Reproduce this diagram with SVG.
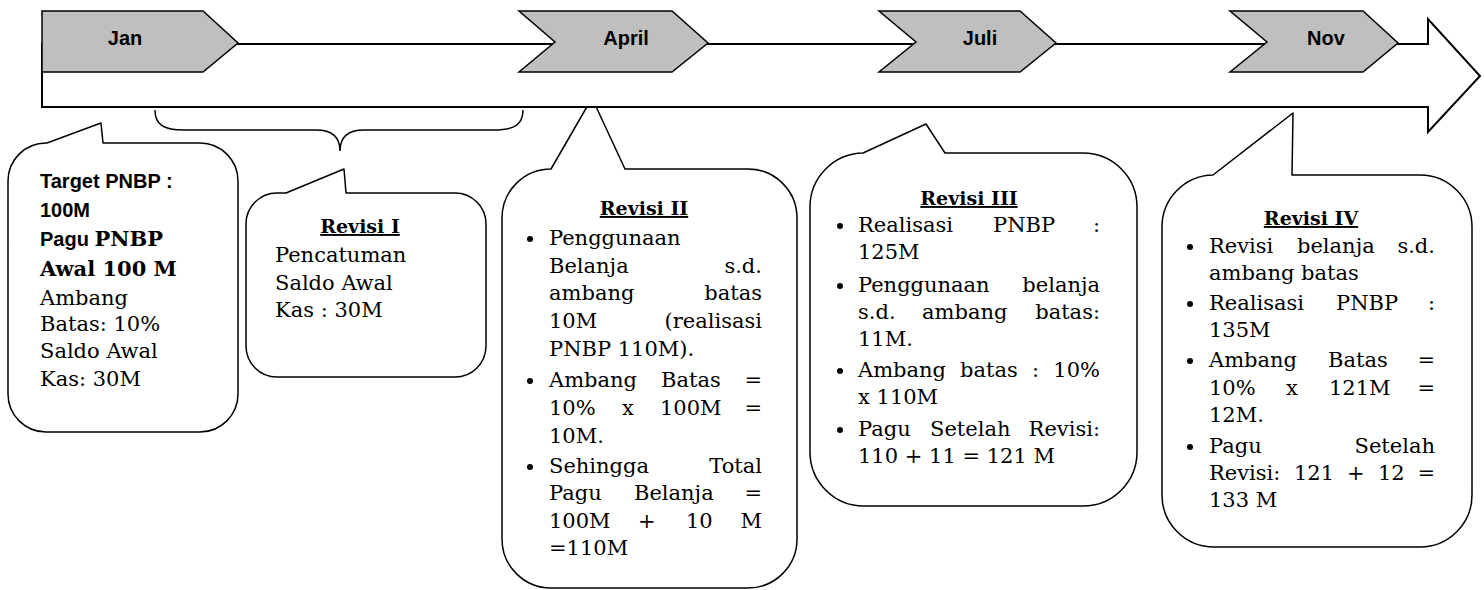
<svg xmlns="http://www.w3.org/2000/svg" width="1484" height="590" viewBox="0 0 1484 590">
<style>
.box{fill:#fff;stroke:#000;stroke-width:1.5;stroke-linejoin:round}
.chev{fill:#bfbfbf;stroke:#000;stroke-width:1.5;stroke-linejoin:miter}
.arrow{fill:#fff;stroke:#000;stroke-width:2}
.brace{fill:none;stroke:#000;stroke-width:1.5}
.lbl{font-family:"Liberation Sans",Arial,sans-serif;font-weight:bold;font-size:20px;text-anchor:middle;fill:#000}
.t{font-family:"DejaVu Serif",serif;font-size:21px;fill:#000}
.e{text-anchor:end}
.tb{font-family:"DejaVu Serif",serif;font-size:19px;font-weight:bold;text-decoration:underline;text-anchor:middle;fill:#000}
.sb{font-family:"Liberation Sans",Arial,sans-serif;font-weight:bold;font-size:20px;fill:#000}
.sfb{font-family:"DejaVu Serif",serif;font-weight:bold;font-size:21px}
.bul{fill:#000}
</style>

<!-- Callouts -->
<g id="node-jan-info">
<path class="box" d="M46,143 L47,143 L101,123 L103,143 L200,143 A38,38 0 0 1 238,181 L238,394 A38,38 0 0 1 200,432 L46,432 A38,38 0 0 1 8,394 L8,181 A38,38 0 0 1 46,143 Z"/>
<text class="sb" x="40" y="188">Target PNBP :</text>
<text class="sb" x="40" y="217">100M</text>
<text class="sb" x="40" y="246">Pagu <tspan class="sfb">PNBP</tspan></text>
<text class="t sfb" x="40" y="276">Awal 100 M</text>
<text class="t" x="40" y="305">Ambang</text>
<text class="t" x="40" y="331">Batas: 10%</text>
<text class="t" x="40" y="358">Saldo Awal</text>
<text class="t" x="40" y="386">Kas: 30M</text>
</g>

<g id="node-revisi-1">
<path class="box" d="M277,193 L286,193 L344,169 L346,193 L455,193 A31,31 0 0 1 486,224 L486,346 A31,31 0 0 1 455,377 L277,377 A31,31 0 0 1 246,346 L246,224 A31,31 0 0 1 277,193 Z"/>
<text class="tb" x="360" y="233">Revisi I</text>
<text class="t" x="275" y="262">Pencatuman</text>
<text class="t" x="275" y="290">Saldo Awal</text>
<text class="t" x="275" y="317">Kas : 30M</text>
</g>

<g id="node-revisi-2">
<path class="box" d="M551,169 L592,98 L625,169 L748,169 A49,49 0 0 1 797,218 L797,539 A49,49 0 0 1 748,588 L551,588 A49,49 0 0 1 502,539 L502,218 A49,49 0 0 1 551,169 Z"/>
<text class="tb" x="644" y="215">Revisi II</text>
<circle class="bul" cx="530" cy="239" r="3"/>
<circle class="bul" cx="530" cy="381" r="3"/>
<circle class="bul" cx="530" cy="467" r="3"/>
<text class="t" x="549" y="245">Penggunaan</text>
<text class="t" x="549" y="273">Belanja</text><text class="t e" x="762" y="273">s.d.</text>
<text class="t" x="549" y="300">ambang</text><text class="t e" x="762" y="300">batas</text>
<text class="t" x="549" y="328">10M</text><text class="t e" x="762" y="328">(realisasi</text>
<text class="t" x="549" y="356">PNBP 110M).</text>
<text class="t" y="387"><tspan x="549">Ambang</tspan><tspan x="661">Batas</tspan></text><text class="t e" x="762" y="387">=</text>
<text class="t" y="415"><tspan x="549">10%</tspan><tspan x="622">x</tspan><tspan x="660">100M</tspan></text><text class="t e" x="762" y="415">=</text>
<text class="t" x="549" y="443">10M.</text>
<text class="t" x="549" y="473">Sehingga</text><text class="t e" x="762" y="473">Total</text>
<text class="t" y="500"><tspan x="549">Pagu</tspan><tspan x="634">Belanja</tspan></text><text class="t e" x="762" y="500">=</text>
<text class="t" y="528"><tspan x="549">100M</tspan><tspan x="638">+</tspan><tspan x="686">10</tspan></text><text class="t e" x="762" y="528">M</text>
<text class="t" x="549" y="555">=110M</text>
</g>

<g id="node-revisi-3">
<path class="box" d="M863,153 L926,124 L945,153 L1083,153 A54,54 0 0 1 1137,207 L1137,452 A54,54 0 0 1 1083,506 L864,506 A54,54 0 0 1 810,452 L810,207 A54,54 0 0 1 863,153 Z"/>
<text class="tb" x="969" y="205">Revisi III</text>
<circle class="bul" cx="840" cy="226" r="3"/>
<circle class="bul" cx="840" cy="286" r="3"/>
<circle class="bul" cx="840" cy="371" r="3"/>
<circle class="bul" cx="840" cy="430" r="3"/>
<text class="t" y="232"><tspan x="858">Realisasi</tspan><tspan x="993">PNBP</tspan></text><text class="t e" x="1100" y="232">:</text>
<text class="t" x="858" y="259">125M</text>
<text class="t" x="858" y="292">Penggunaan</text><text class="t e" x="1100" y="292">belanja</text>
<text class="t" y="319"><tspan x="858">s.d.</tspan><tspan x="922">ambang</tspan></text><text class="t e" x="1100" y="319">batas:</text>
<text class="t" y="377"><tspan x="858">Ambang</tspan><tspan x="960">batas</tspan><tspan x="1032">:</tspan></text><text class="t e" x="1100" y="377">10%</text>
<text class="t" x="858" y="346">11M.</text>
<text class="t" x="858" y="404">x 110M</text>
<text class="t" y="436"><tspan x="858">Pagu</tspan><tspan x="930">Setelah</tspan></text><text class="t e" x="1100" y="436">Revisi:</text>
<text class="t" x="858" y="463">110 + 11 = 121 M</text>
</g>

<g id="node-revisi-4">
<path class="box" d="M1213,175 L1293,113 L1292,175 L1420,175 A52,52 0 0 1 1472,227 L1472,495 A52,52 0 0 1 1420,547 L1214,547 A52,52 0 0 1 1162,495 L1162,227 A52,52 0 0 1 1213,175 Z"/>
<text class="tb" x="1311" y="225">Revisi IV</text>
<circle class="bul" cx="1190" cy="247" r="3"/>
<circle class="bul" cx="1190" cy="304" r="3"/>
<circle class="bul" cx="1190" cy="361" r="3"/>
<circle class="bul" cx="1190" cy="447" r="3"/>
<text class="t" y="253"><tspan x="1209">Revisi</tspan><tspan x="1297">belanja</tspan></text><text class="t e" x="1435" y="253">s.d.</text>
<text class="t" x="1209" y="280">ambang batas</text>
<text class="t" y="310"><tspan x="1209">Realisasi</tspan><tspan x="1336">PNBP</tspan></text><text class="t e" x="1435" y="310">:</text>
<text class="t" x="1209" y="337">135M</text>
<text class="t" y="367"><tspan x="1209">Ambang</tspan><tspan x="1328">Batas</tspan></text><text class="t e" x="1435" y="367">=</text>
<text class="t" y="395"><tspan x="1209">10%</tspan><tspan x="1286">x</tspan><tspan x="1329">121M</tspan></text><text class="t e" x="1435" y="395">=</text>
<text class="t" x="1209" y="422">12M.</text>
<text class="t" x="1209" y="453">Pagu</text><text class="t e" x="1435" y="453">Setelah</text>
<text class="t" y="480"><tspan x="1209">Revisi:</tspan><tspan x="1294">121</tspan><tspan x="1347">+</tspan><tspan x="1378">12</tspan></text><text class="t e" x="1435" y="480">=</text>
<text class="t" x="1209" y="507">133 M</text>
</g>

<!-- Timeline arrow and brace -->
<g id="connectors">
<polygon class="arrow" points="42,44 1428,44 1428,19 1480,76 1428,132 1428,107 42,107"/>
<path class="brace" d="M155,110 C155,125 164,130 184,130 L316,130 C333,130 340,138 340,151 C340,138 347,130 364,130 L494,130 C514,130 523,125 523,110"/>
</g>

<!-- Month chevrons -->
<g id="node-jan">
<polygon class="chev" points="42,11 203,11 238,43 203,72 42,72"/>
<text class="lbl" x="125" y="45">Jan</text>
</g>
<g id="node-april">
<polygon class="chev" points="519,11 672,11 708,43 672,72 519,72 555,42"/>
<text class="lbl" x="626" y="45">April</text>
</g>
<g id="node-juli">
<polygon class="chev" points="879,11 1020,11 1056,43 1020,72 879,72 916,42"/>
<text class="lbl" x="980" y="45">Juli</text>
</g>
<g id="node-nov">
<polygon class="chev" points="1230,11 1363,11 1398,43 1363,72 1230,72 1267,42"/>
<text class="lbl" x="1326" y="45">Nov</text>
</g>
</svg>
